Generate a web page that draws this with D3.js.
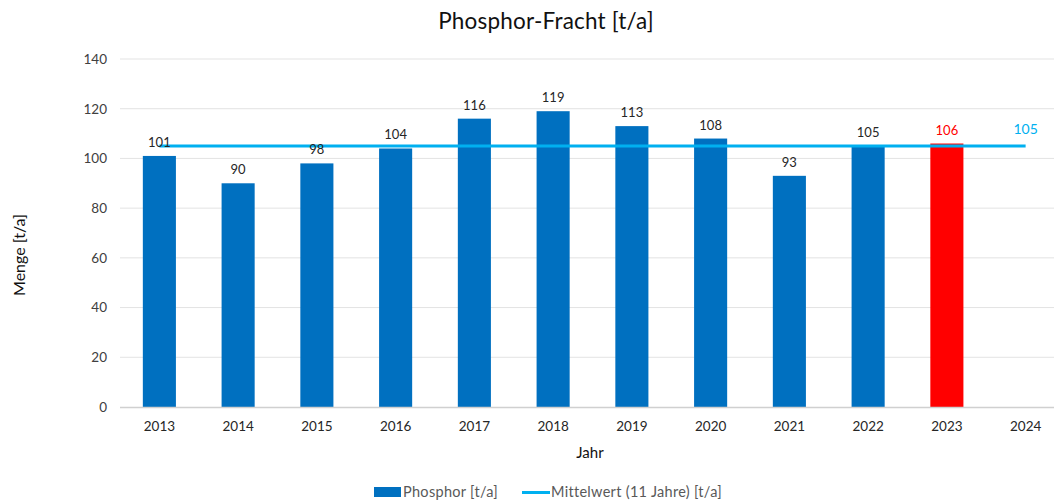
<!DOCTYPE html>
<html><head><meta charset="utf-8">
<script src="https://cdn.jsdelivr.net/npm/d3@7/dist/d3.min.js"></script>
<style>body{margin:0;background:#fff}svg{display:block}text{font-family:Lato,"Open Sans",sans-serif}</style>
</head><body><svg id="c" width="1054" height="504"></svg>
<script>
const years = ["2013","2014","2015","2016","2017","2018","2019","2020","2021","2022","2023","2024"];
const phosphor = [101,90,98,104,116,119,113,108,93,105,106,null];
const meanValue = 105;
const meanYears = ["2013","2024"];
const yTicks = [0,20,40,60,80,100,120,140];

const svg = d3.select("#c");
const x = d3.scaleBand().domain(years).range([120,1065]).paddingInner(0.58).paddingOuter(0.29);
const y = d3.scaleLinear().domain([0,140]).range([407,59]);

// gridlines
svg.append("g").selectAll("line").data(yTicks.filter(d=>d>0)).join("line")
  .attr("x1",120).attr("x2",1054).attr("y1",d=>y(d)).attr("y2",d=>y(d))
  .attr("stroke","#e3e3e3").attr("stroke-width",1);

// y axis labels
const ya = svg.append("g").attr("transform","translate(107,0)")
  .call(d3.axisLeft(y).tickValues(yTicks).tickSize(0).tickPadding(0));
ya.select(".domain").remove();
ya.selectAll("text").attr("font-size",13.5).attr("fill","#404040").style("font-family","Lato");

// bars
svg.append("g").selectAll("rect").data(years.map((d,i)=>({year:d,v:phosphor[i]})).filter(d=>d.v!=null)).join("rect")
  .attr("x",d=>x(d.year)).attr("width",x.bandwidth())
  .attr("y",d=>y(d.v)).attr("height",d=>y(0)-y(d.v))
  .attr("fill",d=>d.year==="2023"?"#FF0000":"#0070C0");

// baseline
svg.append("line").attr("x1",120).attr("x2",1054).attr("y1",y(0)+0.5).attr("y2",y(0)+0.5)
  .attr("stroke","#d0d0d0").attr("stroke-width",1.5);

// x axis labels
const xa = svg.append("g").attr("transform",`translate(0,${y(0)})`)
  .call(d3.axisBottom(x).tickSize(0).tickPadding(14));
xa.select(".domain").remove();
xa.selectAll("text").attr("font-size",13.5).attr("fill","#262626").style("font-family","Lato");

// mean line
svg.append("line")
  .attr("x1",x(meanYears[0])+x.bandwidth()/2).attr("x2",x(meanYears[1])+x.bandwidth()/2)
  .attr("y1",y(meanValue)).attr("y2",y(meanValue))
  .attr("stroke","#00B0F0").attr("stroke-width",3);

// value labels
svg.append("g").selectAll("text").data(years.map((d,i)=>({year:d,v:phosphor[i]})).filter(d=>d.v!=null)).join("text")
  .attr("x",d=>x(d.year)+x.bandwidth()/2).attr("y",d=>y(d.v)-9)
  .attr("text-anchor","middle").attr("font-size",13)
  .attr("fill",d=>d.year==="2023"?"#FF0000":"#262626")
  .text(d=>d.v);
svg.append("text").attr("x",x(meanYears[1])+x.bandwidth()/2).attr("y",y(meanValue)-12)
  .attr("text-anchor","middle").attr("font-size",14).attr("fill","#00B0F0").text(meanValue);

// title
svg.append("text").attr("x",546).attr("y",29).attr("text-anchor","middle")
  .attr("font-size",22.5).attr("letter-spacing",0.2).attr("fill","#111").text("Phosphor-Fracht [t/a]");

// axis titles
svg.append("text").attr("x",590).attr("y",458).attr("text-anchor","middle")
  .attr("font-size",15).attr("fill","#111").text("Jahr");
svg.append("text").attr("transform","translate(25,255) rotate(-90)").attr("text-anchor","middle")
  .attr("font-size",16).attr("fill","#111").text("Menge [t/a]");

// legend
const lg = svg.append("g");
lg.append("rect").attr("x",374).attr("y",487).attr("width",27).attr("height",10).attr("fill","#0070C0");
lg.append("text").attr("x",403).attr("y",497).attr("font-size",14.5).attr("letter-spacing",0.3).attr("fill","#595959").text("Phosphor [t/a]");
lg.append("line").attr("x1",522).attr("x2",550).attr("y1",492.5).attr("y2",492.5).attr("stroke","#00B0F0").attr("stroke-width",3);
lg.append("text").attr("x",551).attr("y",497).attr("font-size",14.5).attr("letter-spacing",0.3).attr("fill","#595959").text("Mittelwert (11 Jahre) [t/a]");
</script></body></html>
